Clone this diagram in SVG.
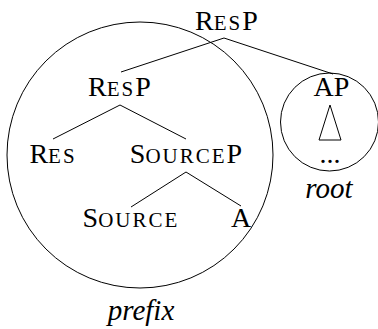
<svg xmlns="http://www.w3.org/2000/svg" width="378" height="329" viewBox="0 0 378 329">
  <style>
    text { font-family: "Liberation Serif", "DejaVu Serif", serif; font-size: 28px; fill: #000; text-anchor: middle; }
    .sc { font-size: 21px; letter-spacing: 2px; }
    .it { font-style: italic; font-size: 29px; }
    .edge { stroke: #000; stroke-width: 1; fill: none; }
    .ring { stroke: #000; stroke-width: 1; fill: none; }
  </style>
  <rect width="378" height="329" fill="#fff"/>

  <!-- domains -->
  <g id="prefix-domain">
    <circle class="ring" cx="140" cy="155" r="133"/>
    <text class="it" x="141" y="320">prefix</text>
  </g>
  <g id="root-domain">
    <circle class="ring" cx="329.5" cy="122" r="49"/>
    <text class="it" x="329" y="198">root</text>
  </g>

  <!-- branches -->
  <g id="edges">
    <line class="edge" x1="224" y1="38" x2="121" y2="72"/>
    <line class="edge" x1="224" y1="38" x2="333" y2="74"/>
    <line class="edge" x1="120" y1="105" x2="53" y2="139"/>
    <line class="edge" x1="120" y1="105" x2="186" y2="139"/>
    <line class="edge" x1="186" y1="172" x2="131" y2="207"/>
    <line class="edge" x1="186" y1="172" x2="241" y2="206"/>
  </g>

  <g id="resp-top"><text x="226.5" y="30">R<tspan class="sc">ES</tspan>P</text></g>
  <g id="resp"><text x="119.5" y="96">R<tspan class="sc">ES</tspan>P</text></g>
  <g id="res"><text x="53" y="163">R<tspan class="sc">ES</tspan></text></g>
  <g id="sourcep"><text x="186" y="163">S<tspan class="sc">OURCE</tspan>P</text></g>
  <g id="source"><text x="131" y="227">S<tspan class="sc">OURCE</tspan></text></g>
  <g id="a"><text x="241" y="227">A</text></g>
  <g id="ap">
    <text x="331.5" y="96">AP</text>
    <polygon class="edge" points="330,105 319,140 341,140"/>
    <text x="330" y="163">...</text>
  </g>
</svg>
